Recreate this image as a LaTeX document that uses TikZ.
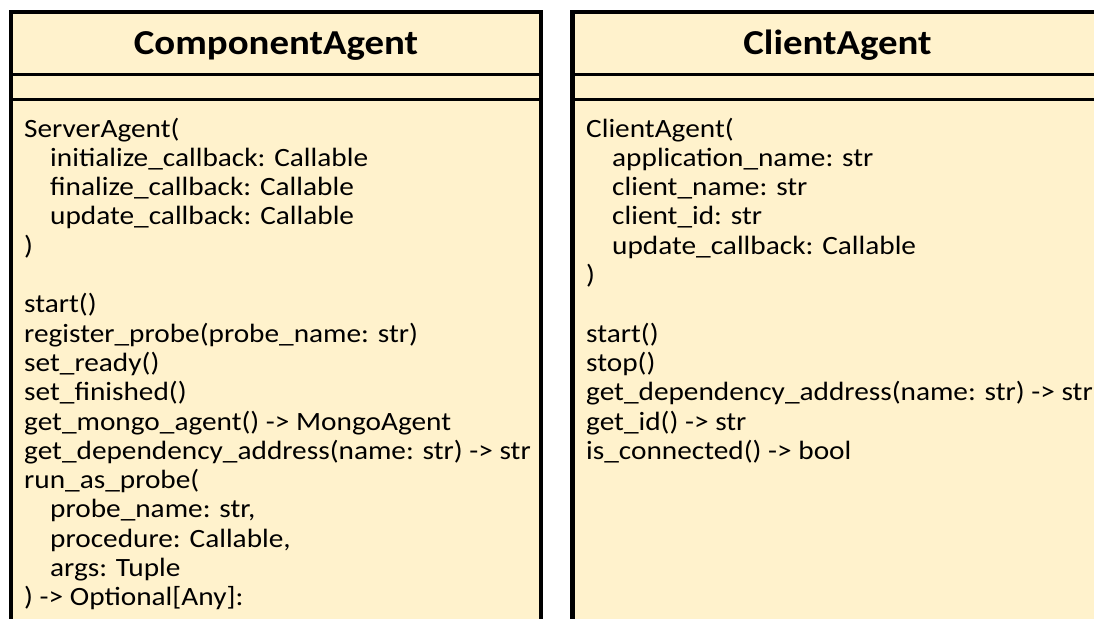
\documentclass[tikz,border=0pt]{standalone}
\usepackage{fontspec}
\setmainfont{Carlito}[FakeStretch=1.11]
\definecolor{classfill}{HTML}{FFF2CC}
\begin{document}
\begin{tikzpicture}[x=1pt,y=-1pt,
  classbox/.style={draw=black,fill=classfill,line width=4.5pt},
  divider/.style={draw=black,line width=3pt},
  title/.style={font=\fontsize{35}{42}\selectfont\bfseries,inner sep=0pt,anchor=base},
  member/.style={font=\fontsize{26.4}{29.3}\selectfont,inner sep=0pt,anchor=base west}]
\useasboundingbox (0,0) rectangle (1094,618);
\clip (0,0) rectangle (1094,618);

% ComponentAgent class box
\draw[classbox] (11,12) rectangle (541,660);
\draw[divider] (11,74) -- (541,74);
\draw[divider] (11,99.5) -- (541,99.5);
\node[title] (ctitle) at (276,54.5) {ComponentAgent};

% ClientAgent class box
\draw[classbox] (572.5,12) rectangle (1102.5,660);
\draw[divider] (572.5,74) -- (1102.5,74);
\draw[divider] (572.5,99.5) -- (1102.5,99.5);
\node[title] (ktitle) at (837.5,54.5) {ClientAgent};

% ComponentAgent members
\foreach \t/\k/\ind in {
  {ServerAgent(}/0/0,
  {initialize\_callback: Callable}/1/1,
  {finalize\_callback: Callable}/2/1,
  {update\_callback: Callable}/3/1,
  {)}/4/0,
  {start()}/6/0,
  {register\_probe(probe\_name: str)}/7/0,
  {set\_ready()}/8/0,
  {set\_finished()}/9/0,
  {get\_mongo\_agent() -> MongoAgent}/10/0,
  {get\_dependency\_address(name: str) -> str}/11/0,
  {run\_as\_probe(}/12/0,
  {probe\_name: str,}/13/1,
  {procedure: Callable,}/14/1,
  {args: Tuple}/15/1,
  {) -> Optional[Any]:}/16/0}
  \node[member] (cm\k) at (24+26*\ind,137+29.3*\k) {\t};

% ClientAgent members
\foreach \t/\k/\ind in {
  {ClientAgent(}/0/0,
  {application\_name: str}/1/1,
  {client\_name: str}/2/1,
  {client\_id: str}/3/1,
  {update\_callback: Callable}/4/1,
  {)}/5/0,
  {start()}/7/0,
  {stop()}/8/0,
  {get\_dependency\_address(name: str) -> str}/9/0,
  {get\_id() -> str}/10/0,
  {is\_connected() -> bool}/11/0}
  \node[member] (km\k) at (586+26*\ind,137+29.3*\k) {\t};
\end{tikzpicture}
\end{document}
